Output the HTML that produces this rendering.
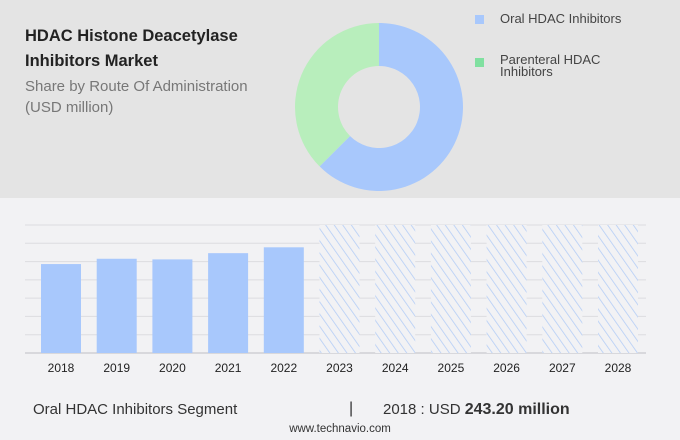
<!DOCTYPE html>
<html><head><meta charset="utf-8"><style>
body{margin:0;width:680px;height:440px;overflow:hidden;background:#f2f2f4;font-family:"Liberation Sans",sans-serif;position:relative}
.t{position:absolute;white-space:nowrap}
</style></head><body>
<div style="position:absolute;left:0;top:0;width:680px;height:198px;background:#e4e4e4"></div>
<div class="t" style="left:25px;top:24px;font-size:16.5px;font-weight:bold;color:#222;line-height:25px">HDAC Histone Deacetylase<br>Inhibitors Market</div>
<div class="t" style="left:25px;top:76px;font-size:15px;color:#777;line-height:21px">Share by Route Of Administration<br>(USD million)</div>
<svg id="donut" style="position:absolute;left:0;top:0" width="680" height="198"></svg>
<div style="position:absolute;left:475px;top:15px;width:9px;height:9px;background:#a8c8fc"></div>
<div class="t" style="left:500px;top:11px;font-size:13px;color:#444">Oral HDAC Inhibitors</div>
<div style="position:absolute;left:475px;top:58px;width:9px;height:9px;background:#80e0a0"></div>
<div class="t" style="left:500px;top:54px;font-size:13px;color:#444;line-height:12px">Parenteral HDAC<br>Inhibitors</div>
<svg id="bars" style="position:absolute;left:0;top:200px" width="680" height="180">
<defs><pattern id="hatch" patternUnits="userSpaceOnUse" width="7" height="7" patternTransform="rotate(-35)"><rect width="7" height="7" fill="#f2f2f4"/><line x1="0" y1="0" x2="0" y2="7" stroke="#b4cdf6" stroke-width="1.6"/></pattern></defs>
</svg>
<div class="t" style="left:33px;top:401px;font-size:15px;color:#333">Oral HDAC Inhibitors Segment</div>
<div class="t" style="left:349px;top:400px;font-size:16px;color:#333">|</div>
<div class="t" style="left:383px;top:401px;font-size:15px;color:#333">2018 : USD <b style="font-size:16px">243.20 million</b></div>
<div class="t" style="left:0;width:680px;text-align:center;top:423px;font-size:11.5px;color:#333">www.technavio.com</div>
<script>
const sliceLabels=["Oral HDAC Inhibitors","Parenteral HDAC Inhibitors"];
const sliceShares=[62.5,37.5];
const sliceColors=["#a8c8fc","#b8eebc"];
const years=["2018","2019","2020","2021","2022","2023","2024","2025","2026","2027","2028"];
const values=[243.2,257.7,256,273,289,null,null,null,null,null,null];
const yTicks=[0,50,100,150,200,250,300,350];
const NS="http://www.w3.org/2000/svg";
function mk(t,a,p){const e=document.createElementNS(NS,t);for(const k in a)e.setAttribute(k,a[k]);p.appendChild(e);return e;}
const dn=document.getElementById('donut');
const cx=379,cy=107,R=84,r=41;
let tot=sliceShares.reduce((a,b)=>a+b,0),ang=0;
sliceShares.forEach((v,i)=>{
 const a0=ang,a1=ang+v/tot*2*Math.PI;ang=a1;
 const p=(a,rr)=>[cx+rr*Math.sin(a),cy-rr*Math.cos(a)];
 const [x0,y0]=p(a0,R),[x1,y1]=p(a1,R),[x2,y2]=p(a1,r),[x3,y3]=p(a0,r);
 const lg=(a1-a0)>Math.PI?1:0;
 const e=mk('path',{d:`M${x0},${y0}A${R},${R} 0 ${lg} 1 ${x1},${y1}L${x2},${y2}A${r},${r} 0 ${lg} 0 ${x3},${y3}Z`,fill:sliceColors[i]},dn);
 
 
});
const sv=document.getElementById('bars');
const base=153,plotTop=25,yMax=350;
const yS=v=>base-(v/yMax)*(base-plotTop);
const xStart=61,step=55.7,bw=40;
const xc=i=>xStart+i*step;
yTicks.forEach(t=>{
 const l=mk('line',{x1:25,x2:646,y1:yS(t),y2:yS(t),stroke:t===0?'#cfcfd3':'#dcdce0','stroke-width':t===0?1.5:1},sv);
 
 
});
years.forEach((yr,i)=>{
 let b;
 if(values[i]!=null){
  b=mk('rect',{x:xc(i)-bw/2,y:yS(values[i]),width:bw,height:base-yS(values[i]),fill:'#a8c8fc'},sv);
 } else {
  b=mk('rect',{x:xc(i)-bw/2,y:plotTop,width:bw,height:base-plotTop,fill:'url(#hatch)'},sv);
 }
 
 
 const t=mk('text',{x:xc(i),y:172,'text-anchor':'middle','font-size':12,fill:'#222'},sv);
 t.textContent=yr;
 
 
});
</script>
</body></html>
